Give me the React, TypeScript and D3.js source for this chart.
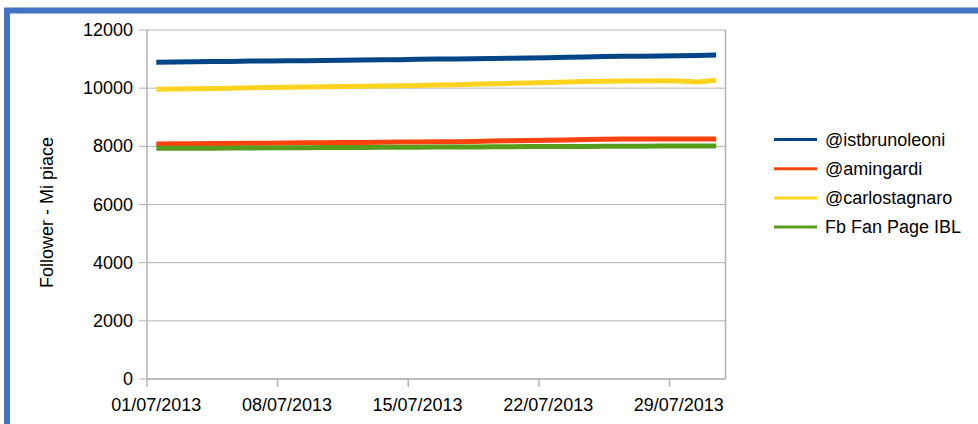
import React from 'react';
import * as d3 from 'd3';

// 31 daily categories, July 2013
const dates = [
  '01/07/2013', '02/07/2013', '03/07/2013', '04/07/2013', '05/07/2013', '06/07/2013', '07/07/2013',
  '08/07/2013', '09/07/2013', '10/07/2013', '11/07/2013', '12/07/2013', '13/07/2013', '14/07/2013',
  '15/07/2013', '16/07/2013', '17/07/2013', '18/07/2013', '19/07/2013', '20/07/2013', '21/07/2013',
  '22/07/2013', '23/07/2013', '24/07/2013', '25/07/2013', '26/07/2013', '27/07/2013', '28/07/2013',
  '29/07/2013', '30/07/2013', '31/07/2013',
];
const tickLabels = ['01/07/2013', '08/07/2013', '15/07/2013', '22/07/2013', '29/07/2013'];
const yTicks = [0, 2000, 4000, 6000, 8000, 10000, 12000];

const istbrunoleoni = [
  10890, 10900, 10910, 10915, 10920, 10930, 10935, 10940, 10945, 10955, 10960,
  10965, 10975, 10980, 10990, 11000, 11005, 11010, 11020, 11030, 11040, 11050,
  11060, 11070, 11085, 11095, 11100, 11105, 11115, 11125, 11140,
];
const amingardi = [
  8080, 8085, 8090, 8095, 8100, 8105, 8110, 8115, 8120, 8125, 8130,
  8135, 8140, 8145, 8150, 8155, 8160, 8170, 8180, 8190, 8200, 8210,
  8220, 8235, 8245, 8248, 8250, 8250, 8252, 8253, 8255,
];
const carlostagnaro = [
  9960, 9970, 9980, 9990, 10000, 10015, 10025, 10035, 10040, 10050, 10060,
  10065, 10075, 10085, 10095, 10105, 10120, 10135, 10150, 10165, 10180, 10195,
  10210, 10225, 10240, 10245, 10250, 10255, 10250, 10215, 10275,
];
const fbFanPage = [
  7930, 7932, 7935, 7938, 7942, 7944, 7947, 7950, 7953, 7957, 7960,
  7962, 7965, 7968, 7970, 7974, 7977, 7980, 7984, 7987, 7990, 7992,
  7995, 7998, 8001, 8004, 8006, 8008, 8009, 8011, 8012,
];

const series = [
  { name: '@istbrunoleoni', values: istbrunoleoni, color: '#004586' },
  { name: '@amingardi', values: amingardi, color: '#ff420e' },
  { name: '@carlostagnaro', values: carlostagnaro, color: '#ffd320' },
  { name: 'Fb Fan Page IBL', values: fbFanPage, color: '#579d1c' },
];

const App: React.FC = () => {
  const width = 978;
  const height = 424;
  const plot = { left: 147, top: 30, right: 725.5, bottom: 379 };
  const font = '"Liberation Sans", Arial, sans-serif';

  const x = d3.scaleBand<string>()
    .domain(dates)
    .range([plot.left, plot.right]);
  const y = d3.scaleLinear()
    .domain([0, 12000])
    .range([plot.bottom, plot.top]);

  const line = d3.line<number>()
    .x((_, i) => (x(dates[i]) as number) + x.bandwidth() / 2)
    .y(d => y(d));

  const grid = '#b3b3b3';

  return (
    <svg width={width} height={height}
      style={{ position: 'absolute', left: 0, top: 0, background: '#fff', fontFamily: font }}>
      {/* outer frame */}
      <rect x={7} y={10.5} width={1000} height={440} fill="none" stroke="#4472c4" strokeWidth={6} />

      {/* horizontal grid */}
      {yTicks.map(t => (
        <g key={t}>
          <line x1={plot.left - 8} x2={plot.right} y1={y(t)} y2={y(t)} stroke={grid} strokeWidth={1} />
          <text x={133} y={y(t)} textAnchor="end" dominantBaseline="central" fontSize={18} fill="#000">{t}</text>
        </g>
      ))}

      {/* plot frame */}
      <line x1={plot.left} x2={plot.left} y1={plot.top} y2={plot.bottom} stroke={grid} strokeWidth={1.5} />
      <line x1={plot.right} x2={plot.right} y1={plot.top} y2={plot.bottom} stroke={grid} strokeWidth={1.5} />
      <line x1={plot.left} x2={plot.right} y1={plot.bottom} y2={plot.bottom} stroke={grid} strokeWidth={1.5} />

      {/* x ticks at category starts, labels at category centres */}
      {tickLabels.map(d => {
        const x0 = x(d) as number;
        return (
          <g key={d}>
            <line x1={x0} x2={x0} y1={plot.bottom} y2={plot.bottom + 8} stroke={grid} strokeWidth={1.5} />
            <text x={x0 + x.bandwidth() / 2} y={405} textAnchor="middle" dominantBaseline="central"
              fontSize={18} fill="#000">{d}</text>
          </g>
        );
      })}

      {/* series lines */}
      {series.map(s => (
        <path key={s.name} d={line(s.values) ?? ''} fill="none" stroke={s.color}
          strokeWidth={5} strokeLinejoin="round" />
      ))}

      {/* y axis title */}
      <text transform="translate(53,212.5) rotate(-90)" textAnchor="middle"
        fontSize={18} fill="#000">Follower - Mi piace</text>

      {/* legend */}
      {series.map((s, i) => {
        const ly = 139.5 + i * 29.2;
        return (
          <g key={s.name}>
            <line x1={774} x2={817} y1={ly} y2={ly} stroke={s.color} strokeWidth={3} />
            <text x={825} y={ly} dominantBaseline="central" fontSize={18} fill="#000">{s.name}</text>
          </g>
        );
      })}
    </svg>
  );
};

export default App;
